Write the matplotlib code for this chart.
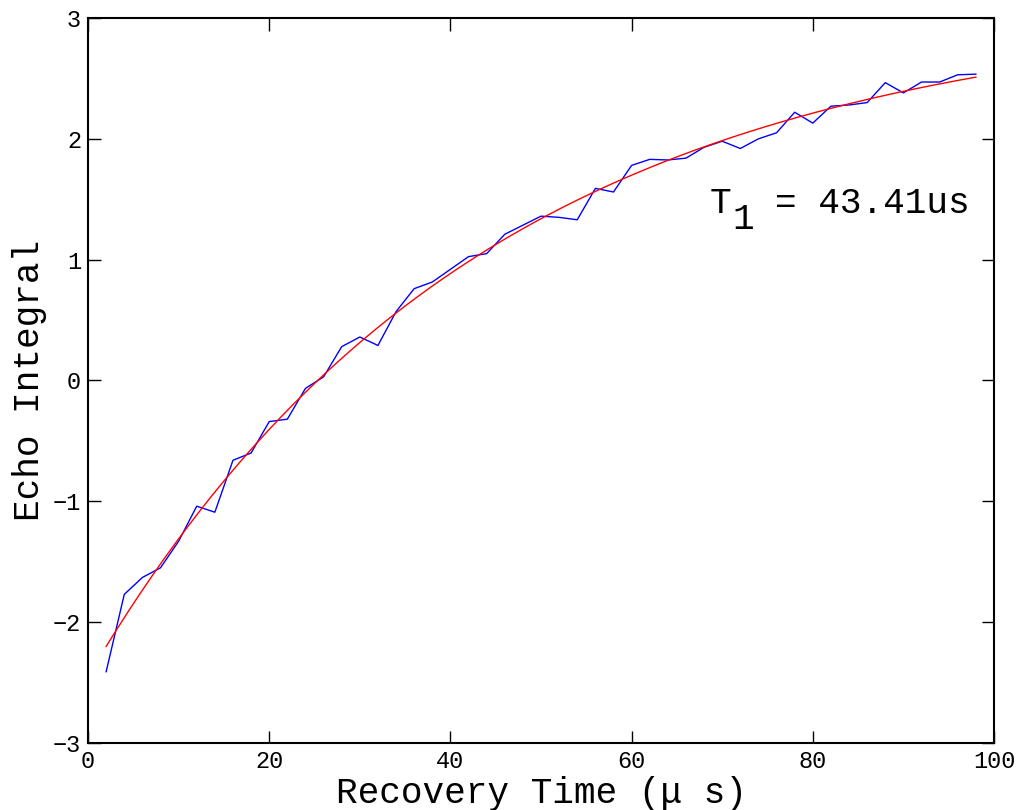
import numpy as np
import matplotlib
matplotlib.use("Agg")
import matplotlib.pyplot as plt

plt.rcParams['font.family'] = ['Liberation Mono', 'DejaVu Sans']

t_data = list(range(2, 100, 2))
echo = [-2.41, -1.77, -1.63, -1.55, -1.33, -1.04, -1.09, -0.66, -0.60, -0.34,
        -0.32, -0.065, 0.03, 0.28, 0.36, 0.29, 0.57, 0.76, 0.815, 0.92,
        1.025, 1.05, 1.21, 1.285, 1.36, 1.35, 1.33, 1.59, 1.56, 1.78,
        1.83, 1.825, 1.84, 1.93, 1.98, 1.92, 2.0, 2.05, 2.22, 2.13,
        2.27, 2.28, 2.30, 2.465, 2.38, 2.47, 2.47, 2.53, 2.535]

# fit: y = A - B*exp(-t/T1)
T1 = 43.41
fit_A = 3.09
fit_B = 5.54

xticks = [0, 20, 40, 60, 80, 100]
yticks = [-3, -2, -1, 0, 1, 2, 3]

fig = plt.figure(figsize=(10.2, 8.1), dpi=100)
ax = fig.add_axes([0.0863, 0.0827, 0.8882, 0.8951])

t_fit = np.linspace(t_data[0], t_data[-1], 300)
ax.plot(t_data, echo, color=(0, 0, 1), lw=1.0)
ax.plot(t_fit, fit_A - fit_B * np.exp(-t_fit / T1), color=(1, 0, 0), lw=1.0)

ax.set_xlim(0, 100)
ax.set_ylim(-3, 3)
ax.set_xticks(xticks)
ax.set_yticks(yticks)
ax.set_yticklabels([str(v).replace('-', '\u2212') for v in yticks])
ax.tick_params(direction='in', length=9, width=1, top=True, right=True,
               labelsize=17, pad=5)
for s in ax.spines.values():
    s.set_linewidth(1.5)

ax.set_xlabel('Recovery Time (\u03bc s)', fontsize=26, labelpad=2)
ax.set_ylabel('Echo Integral', fontsize=26, labelpad=4)

# T1 label: "T", shifted subscript "1", then the value (monospace cells)
fs = 26
cw = 0.6 * fs  # char advance in points
pos = (68.6, 1.39)
ax.text(pos[0], pos[1], 'T', fontsize=fs, va='baseline', ha='left')
ax.annotate('1', xy=pos, xytext=(cw + 1, -12), textcoords='offset points',
            fontsize=fs, va='baseline', ha='left')
ax.annotate('= %.2fus' % T1, xy=pos, xytext=(3 * cw, 0), textcoords='offset points',
            fontsize=fs, va='baseline', ha='left')

fig.savefig('out.png', dpi=100)
